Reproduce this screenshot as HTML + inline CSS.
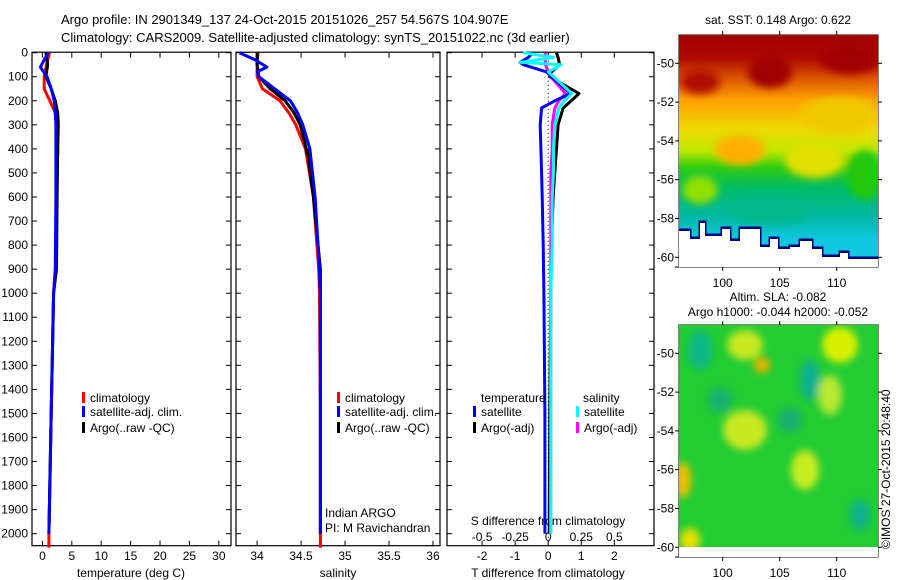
<!DOCTYPE html>
<html><head><meta charset="utf-8"><style>
body{margin:0;background:#fff;}
svg{display:block;font-family:"Liberation Sans",sans-serif;}
text{font-size:12px;fill:#000;}
</style></head><body>
<svg id="c" width="900" height="580" viewBox="0 0 900 580">
<defs>
<linearGradient id="sstg" x1="0" y1="0" x2="0" y2="1">
<stop offset="0" stop-color="#a00000"/><stop offset="0.10" stop-color="#b00800"/>
<stop offset="0.18" stop-color="#d85000"/><stop offset="0.28" stop-color="#ffa000"/>
<stop offset="0.40" stop-color="#f0d800"/><stop offset="0.50" stop-color="#c0e800"/>
<stop offset="0.57" stop-color="#30cc10"/><stop offset="0.66" stop-color="#00bb66"/>
<stop offset="0.78" stop-color="#00b8a0"/><stop offset="0.88" stop-color="#10c8e0"/>
<stop offset="1" stop-color="#10c8e0"/>
</linearGradient>
<filter id="bl"><feGaussianBlur stdDeviation="4"/></filter>
<clipPath id="m2c"><rect x="679" y="325" width="199" height="232"/></clipPath>
</defs>
<text x="61" y="24" style="font-size:13px">Argo profile: IN 2901349_137 24-Oct-2015 20151026_257 54.567S 104.907E</text>
<text x="61" y="42" style="font-size:13px">Climatology: CARS2009. Satellite-adjusted climatology: synTS_20151022.nc (3d earlier)</text>
<g id="axes"></g>
<svg x="679" y="35" width="199" height="232" viewBox="679 35 199 232">
<rect x="679" y="35" width="199" height="232" fill="url(#sstg)"/>
<g filter="url(#bl)">
<ellipse cx="770" cy="72" rx="22" ry="16" fill="#a00000"/>
<ellipse cx="700" cy="82" rx="20" ry="12" fill="#b00800"/>
<ellipse cx="850" cy="60" rx="30" ry="14" fill="#a00000"/>
<ellipse cx="840" cy="115" rx="40" ry="18" fill="#f0c800"/>
<ellipse cx="815" cy="160" rx="30" ry="18" fill="#e0e000"/>
<ellipse cx="865" cy="175" rx="18" ry="25" fill="#20c810"/>
<ellipse cx="740" cy="150" rx="25" ry="15" fill="#ffb000"/>
<ellipse cx="700" cy="190" rx="18" ry="14" fill="#90e000"/>
<ellipse cx="770" cy="210" rx="40" ry="15" fill="#00b88a"/>
</g>
<polyline points="679,230 690,230 690,238 700,238 700,222 705,222 705,235 722,235 722,228 730,228 730,240 740,240 740,228 760,228 760,246 770,246 770,238 778,238 778,248 790,248 790,246 800,246 800,240 812,240 812,248 822,248 822,256 840,256 840,252 848,252 848,258 878,258" fill="none" stroke="#000080" stroke-width="3"/>
<rect x="679" y="231" width="11" height="40" fill="#fff"/>
<rect x="690" y="239" width="10" height="40" fill="#fff"/>
<rect x="700" y="223" width="5" height="50" fill="#fff"/>
<rect x="705" y="236" width="17" height="40" fill="#fff"/>
<rect x="722" y="229" width="8" height="40" fill="#fff"/>
<rect x="730" y="241" width="10" height="40" fill="#fff"/>
<rect x="740" y="229" width="20" height="40" fill="#fff"/>
<rect x="760" y="247" width="10" height="40" fill="#fff"/>
<rect x="770" y="239" width="8" height="40" fill="#fff"/>
<rect x="778" y="249" width="12" height="40" fill="#fff"/>
<rect x="790" y="247" width="10" height="40" fill="#fff"/>
<rect x="800" y="241" width="12" height="40" fill="#fff"/>
<rect x="812" y="249" width="10" height="40" fill="#fff"/>
<rect x="822" y="257" width="18" height="40" fill="#fff"/>
<rect x="840" y="253" width="8" height="40" fill="#fff"/>
<rect x="848" y="259" width="30" height="40" fill="#fff"/>
</svg>
<g clip-path="url(#m2c)">
<rect x="679" y="325" width="199" height="232" fill="#22cc33"/>
<g filter="url(#bl)">
<ellipse cx="700" cy="350" rx="12" ry="20" fill="#10b888"/>
<ellipse cx="745" cy="345" rx="18" ry="15" fill="#c8e820"/>
<ellipse cx="762" cy="365" rx="8" ry="8" fill="#f0b000"/>
<ellipse cx="840" cy="345" rx="18" ry="18" fill="#d8f000"/>
<ellipse cx="810" cy="380" rx="10" ry="20" fill="#10b090"/>
<ellipse cx="745" cy="430" rx="22" ry="20" fill="#c8e820"/>
<ellipse cx="830" cy="395" rx="12" ry="20" fill="#b8e830"/>
<ellipse cx="805" cy="470" rx="14" ry="20" fill="#c8ec20"/>
<ellipse cx="683" cy="480" rx="8" ry="18" fill="#f0c000"/>
<ellipse cx="690" cy="540" rx="10" ry="12" fill="#e8e000"/>
<ellipse cx="860" cy="515" rx="10" ry="15" fill="#10b090"/>
<ellipse cx="790" cy="420" rx="12" ry="12" fill="#18b070"/>
<ellipse cx="720" cy="400" rx="12" ry="12" fill="#18b070"/>
</g>
<rect x="679" y="547" width="199" height="12" fill="#fff"/>
</g>
<text x="778" y="24" text-anchor="middle">sat. SST: 0.148 Argo: 0.622</text>
<text x="778" y="301" text-anchor="middle">Altim. SLA: -0.082</text>
<text x="778" y="316" text-anchor="middle">Argo h1000: -0.044 h2000: -0.052</text>
<text transform="translate(890,549) rotate(-90)">©IMOS 27-Oct-2015 20:48:40</text>
</svg>
<script>
const depthTicks=[0,100,200,300,400,500,600,700,800,900,1000,1100,1200,1300,1400,1500,1600,1700,1800,1900,2000];
const tempTicks=[0,5,10,15,20,25,30];
const salTicks=[34,34.5,35,35.5,36];
const salTickLabels=['34','34.5','35','35.5','36'];
const tdiffTicks=[-2,-1,0,1,2];
const sdiffTicks=[-0.5,-0.25,0,0.25,0.5];
const sdiffTickLabels=['-0.5','-0.25','0','0.25','0.5'];
const climDepth=[0,50,100,150,200,250,300,400,600,900,1000,1500,2000,2058];
const climTemp=[1.2,0.7,0.3,0.3,1.25,2.2,2.4,2.5,2.4,2.2,1.9,1.5,1.1,1.1];
const climSal=[34.01,34.0,34.0,34.06,34.26,34.36,34.44,34.55,34.64,34.70,34.71,34.72,34.72,34.72];
const argoDepth=[0,50,100,150,200,250,300,400,420];
const argoTemp=[0.6,0.9,0.6,1.5,2.2,2.6,2.7,2.6,2.6];
const argoSal=[34.0,34.0,34.02,34.15,34.32,34.42,34.49,34.56,34.57];
const argoDeepDepth=[400,600,900,1000,1500,2000];
const argoDeepSal=[34.57,34.64,34.72,34.72,34.72,34.72];
const argoDeepTemp=[2.6,2.5,2.4,1.9,1.5,1.1];
const satDepth=[0,30,60,80,100,150,200,250,300,400,600,900,1000,1500,2000];
const satTemp=[1.0,0.3,-0.35,0.2,0.8,1.5,2.0,2.2,2.3,2.3,2.3,2.2,1.9,1.5,1.1];
const satSal=[33.8,33.98,34.11,34.0,34.02,34.2,34.38,34.46,34.52,34.6,34.66,34.71,34.72,34.72,34.72];
const dDepth=[0,20,40,50,80,100,170,200,230,300,400,500,600,800,1000,1500,2000];
const satTdiff=[-0.46,-0.6,-0.85,-0.75,-0.05,0.1,0.68,0.2,-0.2,-0.24,-0.22,-0.2,-0.18,-0.15,-0.13,-0.1,-0.1];
const argoTdiff=[0.25,0.3,0.33,0.35,0.1,0.05,0.93,0.7,0.45,0.3,0.25,0.2,0.15,0.1,0.08,0.05,0.03];
const satSdiff=[-0.19,0.04,-0.21,0.1,0.0,0.04,0.18,0.12,0.08,0.05,0.04,0.04,0.03,0.03,0.02,0.02,0.02];
const argoSdiff=[-0.02,-0.03,-0.02,-0.02,0.0,0.02,0.13,0.08,0.05,0.03,0.03,0.02,0.02,0.02,0.02,0.02,0.02];
const mapLat=[-50,-52,-54,-56,-58,-60];
const mapLon=[100,105,110];

const NS='http://www.w3.org/2000/svg';
const g=document.getElementById('axes');
function mk(tag,at,parent){const e=document.createElementNS(NS,tag);for(const k in at)e.setAttribute(k,at[k]);(parent||g).appendChild(e);return e;}
const Y0=52.7,Y1=545.7,D1=2050;
const yD=d=>Y0+d*(Y1-Y0)/D1;
const panels=[{x0:32,x1:231,v0:-1.77,v1:32.07,name:'temperature'},{x0:236,x1:440,v0:33.76,v1:36.08,name:'salinity'},{x0:447,x1:654,v0:-3.06,v1:3.2,name:'difference'}];
function sx(p,v){return p.x0+(v-p.v0)*(p.x1-p.x0)/(p.v1-p.v0);}
panels.forEach((p,i)=>{
  const r=mk('rect',{x:p.x0,y:Y0-0.5,width:p.x1-p.x0,height:Y1-Y0+0.5,fill:'none',stroke:'#000','stroke-width':1.2});
  
  
  depthTicks.forEach(d=>{
    const y=yD(d);
    mk('line',{x1:p.x0,y1:y,x2:p.x0+5,y2:y,stroke:'#000'});
    mk('line',{x1:p.x1,y1:y,x2:p.x1-5,y2:y,stroke:'#000'});
  });
});
depthTicks.forEach(d=>{
  const t=mk('text',{x:28,y:yD(d)+4,'text-anchor':'end'});t.textContent=d;
  
  
});
function xticks(p,ticks,labels,ly){
  ticks.forEach((v,i)=>{const x=sx(p,v);
    mk('line',{x1:x,y1:Y1,x2:x,y2:Y1-5,stroke:'#000'});
    mk('line',{x1:x,y1:Y0,x2:x,y2:Y0+5,stroke:'#000'});
    const t=mk('text',{x:x,y:ly,'text-anchor':'middle'});t.textContent=labels[i];
    
    
  });
}
xticks(panels[0],tempTicks,tempTicks.map(String),560);
xticks(panels[1],salTicks,salTickLabels,560);
xticks(panels[2],tdiffTicks,tdiffTicks.map(String),560);
const sdp={x0:447,x1:654,v0:-0.765,v1:0.8};
sdiffTicks.forEach((v,i)=>{const x=sx(sdp,v);const t=mk('text',{x:x,y:541,'text-anchor':'middle'});t.textContent=sdiffTickLabels[i];
  });
function lbl(x,y,s,name,anchor){const t=mk('text',{x:x,y:y,'text-anchor':anchor||'start'});t.textContent=s;
  return t;}
lbl(131,577,'temperature (deg C)','temperature-axis-title','middle');
lbl(338,577,'salinity','salinity-axis-title','middle');
lbl(548,577,'T difference from climatology','t-diff-axis-title','middle');
lbl(548,525,'S difference from climatology','s-diff-axis-title','middle');
lbl(325,517,'Indian ARGO','institution-label');
lbl(325,532,'PI: M Ravichandran','pi-label');
mk('line',{x1:548.3,y1:Y0,x2:548.3,y2:Y1,stroke:'#000','stroke-dasharray':'1,3'});
function line(p,vals,depths,color,name){
  const pts=vals.map((v,i)=>sx(p,v).toFixed(1)+','+yD(depths[i]).toFixed(1)).join(' ');
  const l=mk('polyline',{points:pts,fill:'none',stroke:color,'stroke-width':3,'stroke-linejoin':'round'});
  
  
}
const P=panels;
line(P[0],climTemp,climDepth,'#f00','temp-climatology-line');
line(P[0],argoTemp,argoDepth,'#000','temp-argo-line');
line(P[0],argoDeepTemp,argoDeepDepth,'#000','temp-argo-deep-line');
line(P[0],satTemp,satDepth,'#00f','temp-satellite-line');
line(P[1],climSal,climDepth,'#f00','sal-climatology-line');
line(P[1],argoSal,argoDepth,'#000','sal-argo-line');
line(P[1],argoDeepSal,argoDeepDepth,'#000','sal-argo-deep-line');
line(P[1],satSal,satDepth,'#00f','sal-satellite-line');
line(P[2],argoTdiff,dDepth,'#000','tdiff-argo-line');
line(sdp,argoSdiff,dDepth,'#f0f','sdiff-argo-line');
line(P[2],satTdiff,dDepth,'#00f','tdiff-satellite-line');
line(sdp,satSdiff,dDepth,'#0ff','sdiff-satellite-line');
function leg(x,y,color,s,name){
  const r=mk('rect',{x:x,y:y-10,width:3,height:11,fill:color});
  
  lbl(x+8,y,s,name+'-label');
}
[[82],[337]].forEach((a,i)=>{
  leg(a[0],402,'#f00','climatology','legend-climatology-'+i);
  leg(a[0],416,'#00f','satellite-adj. clim.','legend-satellite-'+i);
  leg(a[0],432,'#000','Argo(..raw -QC)','legend-argo-'+i);
});
lbl(481,402,'temperature','legend-temperature-heading');
leg(473,416,'#00f','satellite','legend-t-satellite');
leg(473,432,'#000','Argo(-adj)','legend-t-argo');
lbl(583,402,'salinity','legend-salinity-heading');
leg(576,416,'#0ff','satellite','legend-s-satellite');
leg(576,432,'#f0f','Argo(-adj)','legend-s-argo');
[[35,63.3],[325,353.3]].forEach((m,k)=>{
  const top=m[0],lat50=m[1],ppd=19.4;
  const r=mk('rect',{x:679,y:top,width:199,height:232,fill:'none',stroke:'#000'});
  
  mapLat.forEach(v=>{const y=lat50+(-50-v)*ppd;
    mk('line',{x1:675,y1:y,x2:679,y2:y,stroke:'#000'});mk('line',{x1:878,y1:y,x2:882,y2:y,stroke:'#000'});
    lbl(674,y+4,String(v),'map-lat-label','end');});
  mk('line',{x1:675,y1:top+232,x2:679,y2:top+232,stroke:'#000'});
  mapLon.forEach(v=>{const x=722.7+(v-100)*11.4;
    mk('line',{x1:x,y1:top,x2:x,y2:top-4,stroke:'#000'});mk('line',{x1:x,y1:top+232,x2:x,y2:top+236,stroke:'#000'});
    lbl(x,top+252,String(v),'map-lon-label','middle');});
});
</script>
</body></html>
